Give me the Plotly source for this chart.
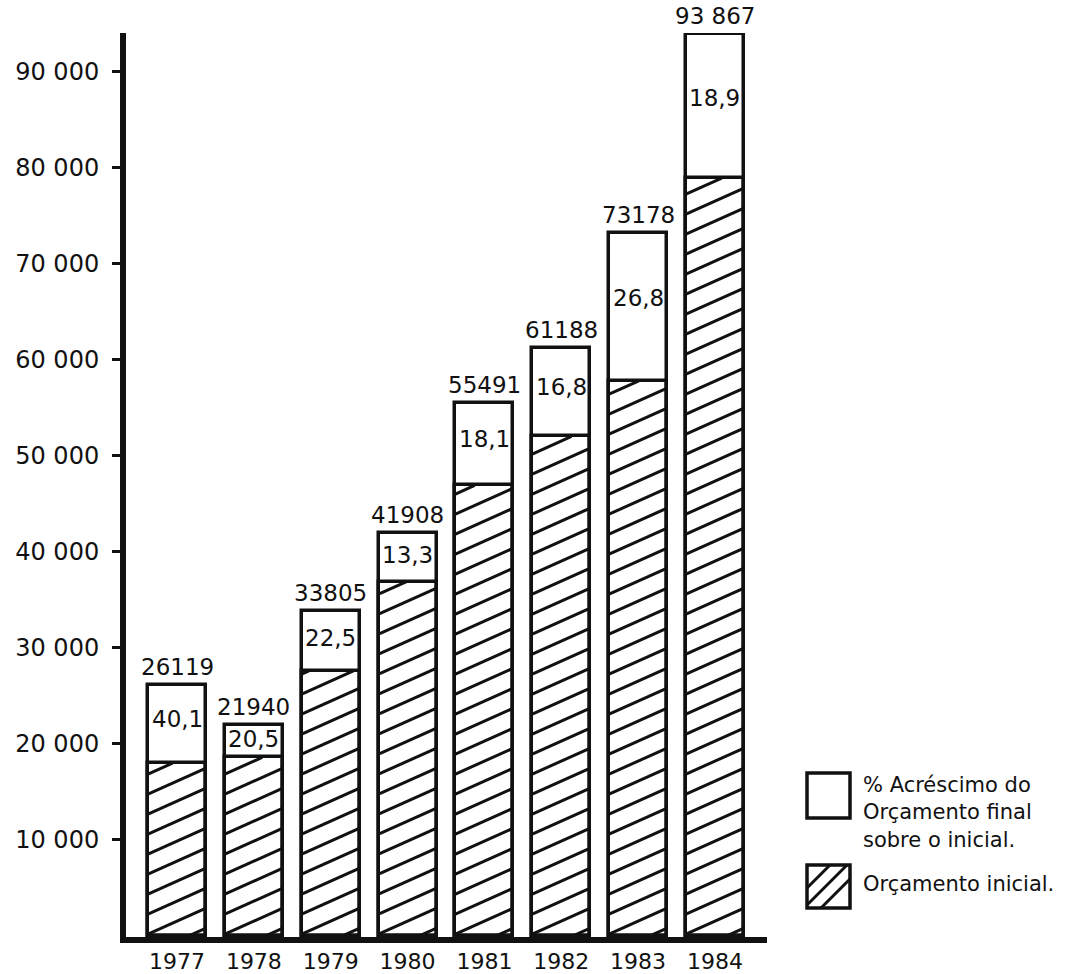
import plotly.graph_objects as go

# ---- data -------------------------------------------------------------
years = [1977, 1978, 1979, 1980, 1981, 1982, 1983, 1984]

# Orçamento final, as printed above each bar
final_labels = ["26119", "21940", "33805", "41908", "55491", "61188", "73178", "93 867"]

# Orçamento inicial (hatched part)
initial = [18000, 18600, 27600, 36900, 46900, 52000, 57800, 78900]

# % acréscimo do orçamento final sobre o inicial
pct_labels = ["40,1", "20,5", "22,5", "13,3", "18,1", "16,8", "26,8", "18,9"]

y_tickvals = [10000, 20000, 30000, 40000, 50000, 60000, 70000, 80000, 90000]
y_ticktext = ["10 000", "20 000", "30 000", "40 000", "50 000",
              "60 000", "70 000", "80 000", "90 000"]

final = [int(s.replace(" ", "")) for s in final_labels]

# ---- layout geometry (pixels) -------------------------------------------
FIG_W, FIG_H = 1072, 974
L, R, T, B = 126, 767, 33, 937
PLOT_W, PLOT_H = R - L, B - T
X_RANGE = [1976.336, 1984.677]
Y_RANGE = [-100, 94000]
BAR_W = 0.755

FONT = "DejaVu Sans"
INK = "#111111"

px_x = PLOT_W / (X_RANGE[1] - X_RANGE[0])   # pixels per year
px_y = PLOT_H / (Y_RANGE[1] - Y_RANGE[0])   # pixels per unit


def to_paper(px, py):
    return (px - L) / PLOT_W, (B - py) / PLOT_H


fig = go.Figure()

# full bar (final budget), white
fig.add_bar(
    x=years, y=final, width=BAR_W,
    marker=dict(color="white", line=dict(color=INK, width=3.5)),
    hoverinfo="skip", showlegend=False,
)
# initial budget outline
fig.add_bar(
    x=years, y=initial, width=BAR_W,
    marker=dict(color="rgba(0,0,0,0)", line=dict(color=INK, width=3.5)),
    hoverinfo="skip", showlegend=False,
)

# diagonal hatching of the initial-budget part
HATCH_SLOPE = 0.45     # rise / run in pixels
HATCH_GAP = 20.0       # vertical spacing in pixels
k = HATCH_SLOPE * px_x / px_y
step = HATCH_GAP / px_y
hx, hy = [], []
for yr, top in zip(years, initial):
    xl, xr = yr - BAR_W / 2, yr + BAR_W / 2
    c = -k * BAR_W + step * 0.4
    while c < top:
        xa = xl + (0 - c) / k
        xb = xl + (top - c) / k
        xs, xe = max(xl, xa), min(xr, xb)
        if xe > xs:
            hx += [xs, xe, None]
            hy += [c + k * (xs - xl), c + k * (xe - xl), None]
        c += step
fig.add_scatter(
    x=hx, y=hy, mode="lines", line=dict(color=INK, width=3),
    hoverinfo="skip", showlegend=False,
)

annotations = []
# totals above the bars
for yr, v, lab in zip(years, final, final_labels):
    annotations.append(dict(
        x=yr, y=v, xref="x", yref="y", text=lab, showarrow=False,
        yanchor="bottom", yshift=3, font=dict(family=FONT, size=23, color=INK),
    ))
# percentages inside the white part
for yr, lo, hi, lab in zip(years, initial, final, pct_labels):
    annotations.append(dict(
        x=yr, y=lo + 0.56 * (hi - lo), xref="x", yref="y", text=lab,
        showarrow=False, yanchor="middle",
        font=dict(family=FONT, size=23, color=INK),
    ))

# ---- legend ---------------------------------------------------------------
shapes = []
box1 = (807, 773, 850, 818)
box2 = (807, 865, 850, 908)
for (x0, y0, x1, y1) in (box1, box2):
    p0 = to_paper(x0, y0)
    p1 = to_paper(x1, y1)
    shapes.append(dict(
        type="rect", xref="paper", yref="paper",
        x0=p0[0], y0=p1[1], x1=p1[0], y1=p0[1],
        line=dict(color=INK, width=3.5), fillcolor="white", layer="above",
    ))

# 45-degree hatch inside the second legend box
x0, y0, x1, y1 = box2
for off in (-20, -3, 14):
    pts = []
    for px in (x0, x1):
        py = y1 - (px - (x0 + off))
        pts.append((px, py))
    (ax, ay), (bx, by) = pts
    if ay > y1:
        ax, ay = ax + (ay - y1), y1
    if by < y0:
        bx, by = bx - (y0 - by), y0
    if bx > ax:
        pa, pb = to_paper(ax, ay), to_paper(bx, by)
        shapes.append(dict(
            type="line", xref="paper", yref="paper",
            x0=pa[0], y0=pa[1], x1=pb[0], y1=pb[1],
            line=dict(color=INK, width=3), layer="above",
        ))

lx, ly = to_paper(861, 812)
annotations.append(dict(
    x=lx, y=ly, xref="paper", yref="paper",
    text="% Acréscimo do<br>Orçamento final<br>sobre o inicial.",
    showarrow=False, xanchor="left", yanchor="middle", align="left",
    font=dict(family=FONT, size=21, color=INK),
))
lx, ly = to_paper(861, 884)
annotations.append(dict(
    x=lx, y=ly, xref="paper", yref="paper", text="Orçamento inicial.",
    showarrow=False, xanchor="left", yanchor="middle", align="left",
    font=dict(family=FONT, size=21, color=INK),
))

fig.update_layout(
    width=FIG_W, height=FIG_H,
    margin=dict(l=L, r=FIG_W - R, t=T, b=FIG_H - B, pad=0, autoexpand=False),
    paper_bgcolor="white", plot_bgcolor="white",
    barmode="overlay", bargap=0,
    showlegend=False,
    annotations=annotations, shapes=shapes,
    xaxis=dict(
        range=X_RANGE, tickvals=years, ticktext=[str(y) for y in years],
        showline=True, linewidth=6, linecolor=INK, ticks="",
        showgrid=False, zeroline=False, ticklabelstandoff=0, automargin=False,
        tickfont=dict(family=FONT, size=22, color=INK),
    ),
    yaxis=dict(
        range=Y_RANGE, tickvals=y_tickvals, ticktext=y_ticktext,
        showline=True, linewidth=6, linecolor=INK,
        ticks="outside", ticklen=8, tickwidth=2.5, tickcolor=INK,
        showgrid=False, zeroline=False, ticklabelstandoff=8, automargin=False,
        tickfont=dict(family=FONT, size=24, color=INK),
    ),
)

fig.write_html("out.html")
